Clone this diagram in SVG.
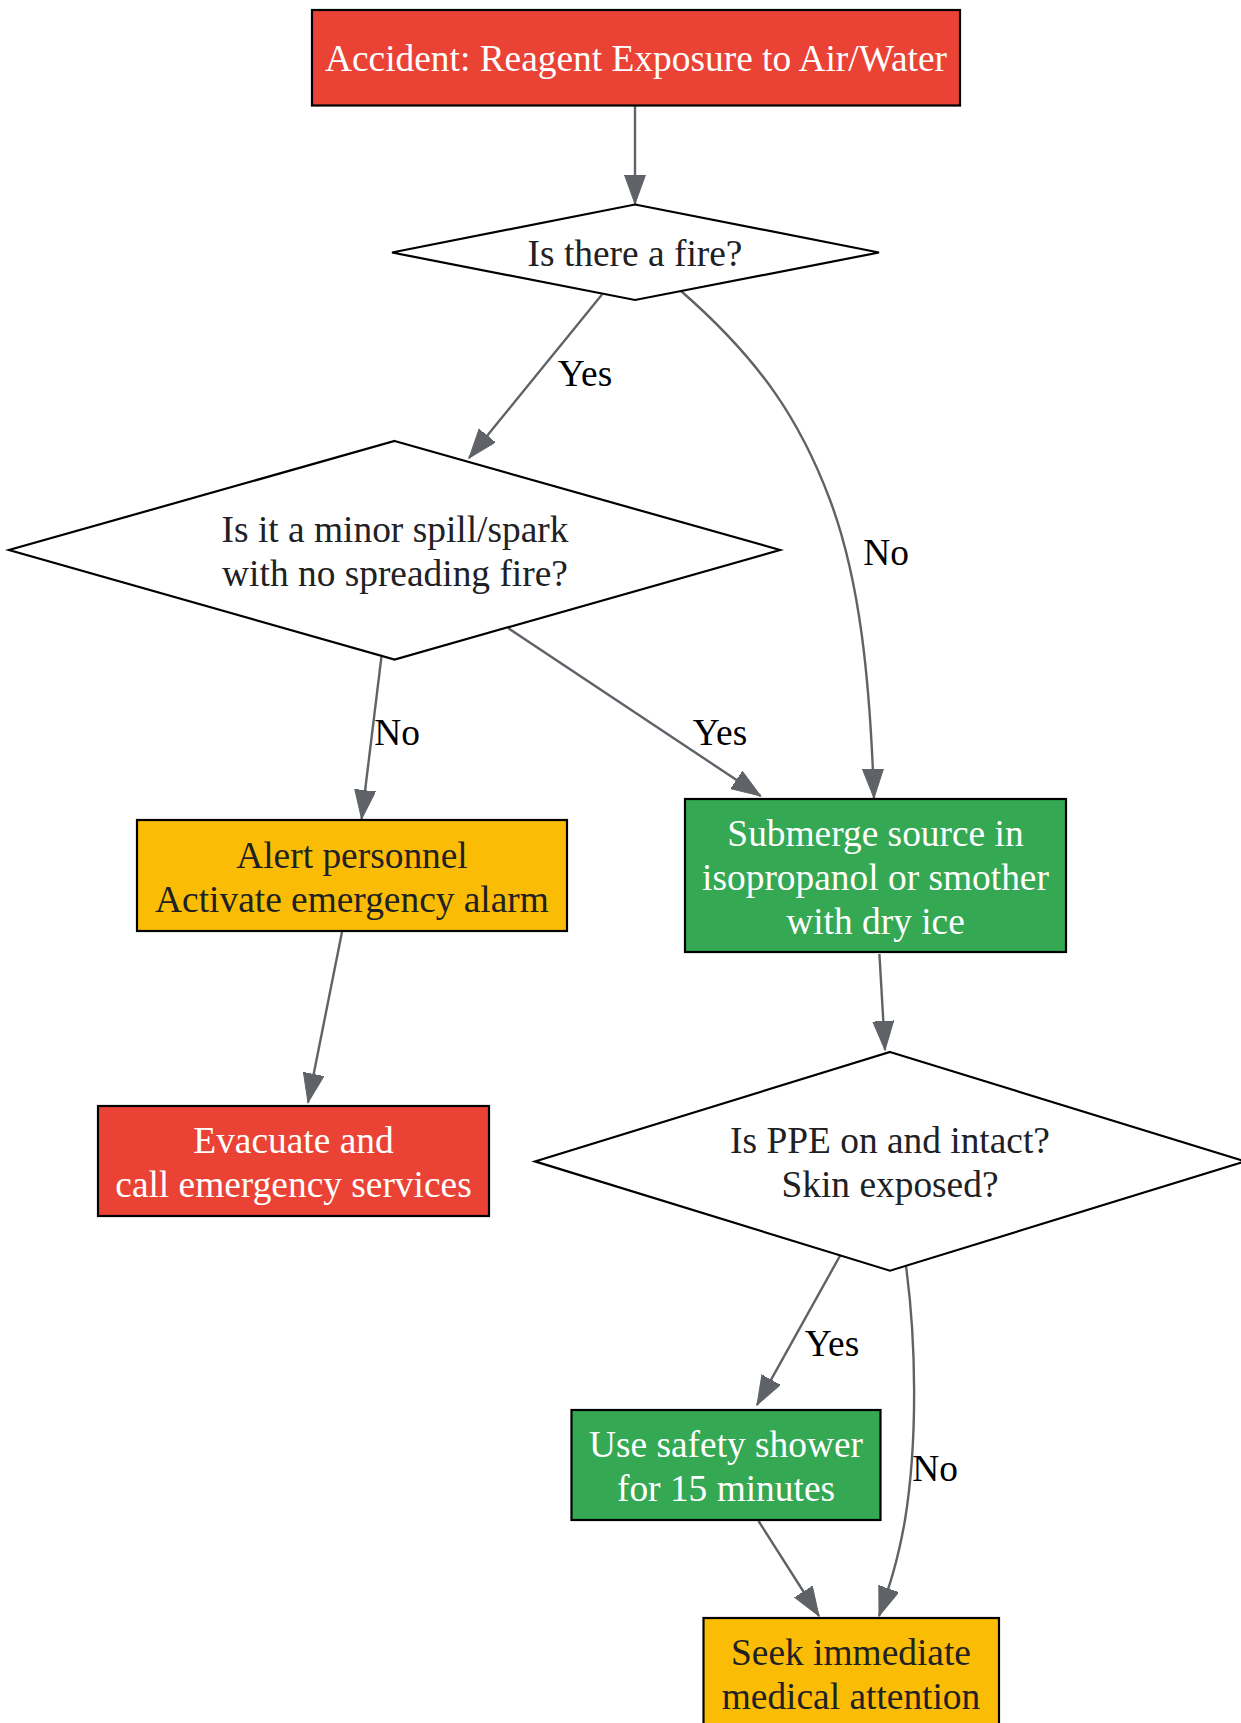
<svg xmlns="http://www.w3.org/2000/svg" width="1241" height="1723" viewBox="0 0 1241 1723">
<style>
text{font-family:"Liberation Serif","Times New Roman",serif;font-size:37.4px;text-anchor:middle}
.box{stroke:#000;stroke-width:2.2}
.red{fill:#EA4335}.green{fill:#34A853}.yellow{fill:#FBBC05}.dia{fill:#fff;stroke:#000;stroke-width:2.2}
.w{fill:#fff}.d{fill:#202124}.lbl{fill:#000}
.e{fill:none;stroke:#5F6368;stroke-width:2.4;marker-end:url(#ah)}
</style>
<defs>
<marker id="ah" markerUnits="userSpaceOnUse" markerWidth="32" markerHeight="24" refX="29" refY="10.5" orient="auto">
<path d="M0,0 L29,10.5 L0,21 z" fill="#5F6368" stroke="#5F6368" stroke-width="1"/>
</marker>
</defs>
<g id="connectors">
<path class="e" d="M635,105.5 L635,204"/>
<path class="e" d="M602,294.5 L469,458"/>
<path class="e" d="M681,291 C760,360 800,420 830,500 C860,580 870,680 874,798"/>
<path class="e" d="M381.4,657 L361.6,819"/>
<path class="e" d="M508,628 L760.6,796"/>
<path class="e" d="M342,932 L308,1102.5"/>
<path class="e" d="M879.4,954 L885,1050"/>
<path class="e" d="M841,1254 L757,1405"/>
<path class="e" d="M906,1266 C916,1340 918,1440 905,1520 C898,1560 890,1585 879,1616"/>
<path class="e" d="M758.5,1521 L819,1616"/>
<text class="lbl" x="585" y="386">Yes</text>
<text class="lbl" x="886" y="565">No</text>
<text class="lbl" x="397" y="745">No</text>
<text class="lbl" x="720" y="745">Yes</text>
<text class="lbl" x="832" y="1356">Yes</text>
<text class="lbl" x="935" y="1481">No</text>
</g>
<g id="accident">
<rect class="box red" x="312" y="10" width="648" height="95.5"/>
<text class="w" x="636" y="71">Accident: Reagent Exposure to Air/Water</text>
</g>
<g id="fire">
<polygon class="dia" points="635,204.5 879,252.5 635,300 392,252.5"/>
<text class="d" x="635" y="266">Is there a fire?</text>
</g>
<g id="minor">
<polygon class="dia" points="394.6,441 780,550 394.6,659.5 9,550"/>
<text class="d" x="395" y="541.5">Is it a minor spill/spark</text>
<text class="d" x="395" y="585.5">with no spreading fire?</text>
</g>
<g id="submerge">
<rect class="box green" x="685" y="799" width="381" height="153"/>
<text class="w" x="875.5" y="845.5">Submerge source in</text>
<text class="w" x="875.5" y="889.5">isopropanol or smother</text>
<text class="w" x="875.5" y="933.5">with dry ice</text>
</g>
<g id="alert">
<rect class="box yellow" x="137" y="820" width="430" height="111"/>
<text class="d" x="352" y="867.5">Alert personnel</text>
<text class="d" x="352" y="911.5">Activate emergency alarm</text>
</g>
<g id="evacuate">
<rect class="box red" x="98" y="1106" width="391" height="110"/>
<text class="w" x="293.5" y="1152.5">Evacuate and</text>
<text class="w" x="293.5" y="1196.5">call emergency services</text>
</g>
<g id="ppe">
<polygon class="dia" points="890,1052 1245,1161.4 890,1270.7 535,1161.4"/>
<text class="d" x="890" y="1153">Is PPE on and intact?</text>
<text class="d" x="890" y="1197">Skin exposed?</text>
</g>
<g id="shower">
<rect class="box green" x="571.5" y="1410" width="309" height="110"/>
<text class="w" x="726" y="1456.5">Use safety shower</text>
<text class="w" x="726" y="1500.5">for 15 minutes</text>
</g>
<g id="seek">
<rect class="box yellow" x="703.5" y="1618" width="295.5" height="111"/>
<text class="d" x="851" y="1664.5">Seek immediate</text>
<text class="d" x="851" y="1708.5">medical attention</text>
</g>
</svg>
